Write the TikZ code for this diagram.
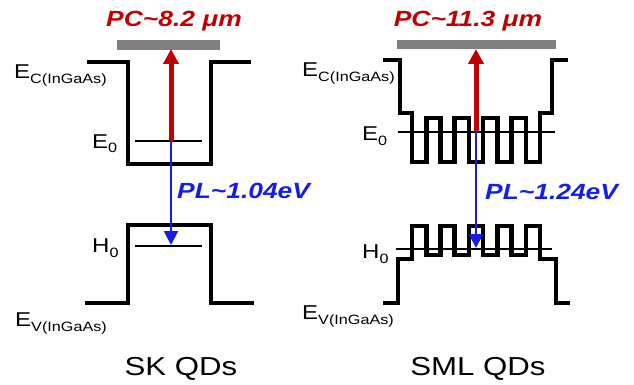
\documentclass[tikz,border=0pt]{standalone}
\usepackage{fontspec}
\setmainfont{Liberation Sans}[FakeStretch=1.2]
\usetikzlibrary{arrows.meta}
\definecolor{pcred}{RGB}{192,0,0}
\definecolor{plblue}{RGB}{20,30,230}
\definecolor{bargray}{RGB}{128,128,128}
\newcommand{\bandlbl}[2]{\fontsize{20}{20}\selectfont #1\raisebox{-5pt}{\fontsize{13.5}{13.5}\selectfont #2}}
\tikzset{
  band/.style={line width=4.6pt, line join=miter},
  level/.style={line width=2pt},
  pcarrow/.style={pcred, line width=5pt, -{Triangle[width=15pt,length=15pt]}},
  plarrow/.style={plblue, line width=2.2pt, -{Triangle[width=14pt,length=14pt]}},
  lbl/.style={inner sep=0pt, anchor=base west},
  bigtxt/.style={inner sep=0pt, anchor=base, font=\fontsize{22}{22}\selectfont\bfseries\itshape},
  qdtxt/.style={inner sep=0pt, anchor=base, font=\fontsize{26}{26}\selectfont},
  bar/.style={fill=bargray, draw=none}
}
\begin{document}
\begin{tikzpicture}[x=1pt,y=-1pt]
\useasboundingbox (0,0) rectangle (634,385);
% ---------------- SK QDs (left) ----------------
\fill[bar] (117,40) rectangle (220,50);
\draw[band] (87,62) -- (128,62) -- (128,164) -- (211,164) -- (211,62) -- (251,62);
\draw[band] (85,303) -- (128,303) -- (128,225) -- (211,225) -- (211,303) -- (254,303);
\draw[level] (135,141) -- (202,141);
\draw[level] (135,246) -- (202,246);
\coordinate (e0L) at (171,141);
\coordinate (barL) at (171,49);
\coordinate (h0L) at (171,245);
\draw[pcarrow] (e0L) -- (barL);
\draw[plarrow] (e0L) -- (h0L);
\node[bigtxt, text=pcred] (pcL) at (174,27) {PC\char"007E 8.2 μm};
\node[lbl, text=plblue, font=\fontsize{22}{22}\selectfont\bfseries\itshape] (plL) at (177,198) {PL\char"007E 1.04eV};
\node[lbl] (ecL) at (14,79) {\bandlbl{E}{C(InGaAs)}};
\node[lbl] (evL) at (15,326) {\bandlbl{E}{V(InGaAs)}};
\node[lbl] (e0lblL) at (92,148) {\bandlbl{E}{0}};
\node[lbl] (h0lblL) at (92,252) {\bandlbl{H}{0}};
\node[qdtxt] (skL) at (181,375) {SK QDs};
% ---------------- SML QDs (right) ----------------
\fill[bar] (397,40) rectangle (556,49);
\draw[band] (383,60) -- (400,60) -- (400,113) -- (412,113)
  -- (412,162) -- (426.2,162) -- (426.2,118) -- (440.4,118)
  -- (440.4,162) -- (454.7,162) -- (454.7,118) -- (468.9,118)
  -- (468.9,162) -- (483.1,162) -- (483.1,118) -- (497.3,118)
  -- (497.3,162) -- (511.6,162) -- (511.6,118) -- (525.8,118)
  -- (525.8,162) -- (540,162) -- (540,113) -- (552,113)
  -- (552,60) -- (568,60);
\draw[band] (383,303) -- (398,303) -- (398,259) -- (412,259)
  -- (412,226) -- (426.2,226) -- (426.2,255) -- (440.4,255)
  -- (440.4,226) -- (454.7,226) -- (454.7,255) -- (468.9,255)
  -- (468.9,226) -- (483.1,226) -- (483.1,255) -- (497.3,255)
  -- (497.3,226) -- (511.6,226) -- (511.6,255) -- (525.8,255)
  -- (525.8,226) -- (540,226) -- (540,259) -- (556,259)
  -- (556,303) -- (570,303);
\draw[level] (398,132) -- (555,132);
\draw[level] (396,249) -- (552,249);
\coordinate (e0R) at (476,132);
\coordinate (barR) at (476,49);
\coordinate (h0R) at (476,248);
\draw[pcarrow] (e0R) -- (barR);
\draw[plarrow] (e0R) -- (h0R);
\node[bigtxt, text=pcred] (pcR) at (468,27) {PC\char"007E 11.3 μm};
\node[lbl, text=plblue, font=\fontsize{22}{22}\selectfont\bfseries\itshape] (plR) at (485,199) {PL\char"007E 1.24eV};
\node[lbl] (ecR) at (302,77) {\bandlbl{E}{C(InGaAs)}};
\node[lbl] (evR) at (302,319) {\bandlbl{E}{V(InGaAs)}};
\node[lbl] (e0lblR) at (362,140) {\bandlbl{E}{0}};
\node[lbl] (h0lblR) at (362,258) {\bandlbl{H}{0}};
\node[qdtxt] (smlR) at (478,375) {SML QDs};
\end{tikzpicture}
\end{document}
